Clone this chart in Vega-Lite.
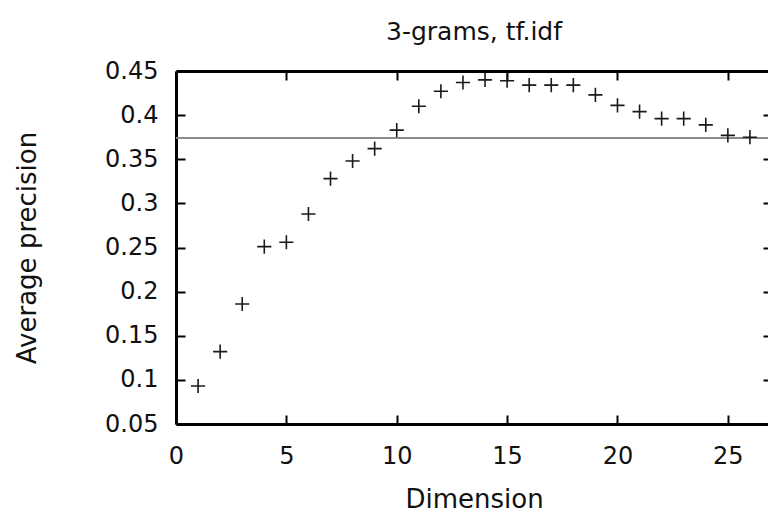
{
  "$schema": "https://vega.github.io/schema/vega-lite/v6.json",
  "autosize": "none",
  "padding": {"left": 176, "top": 71, "right": 0, "bottom": 90},
  "width": 596,
  "height": 353,
  "background": "white",
  "title": {"text": "3-grams, tf.idf", "font": "DejaVu Sans", "fontSize": 25, "fontWeight": "normal", "color": "#111", "offset": 14, "anchor": "middle"},
  "data": {"values": [
    {"dim": 1, "ap": 0.093}, {"dim": 2, "ap": 0.132}, {"dim": 3, "ap": 0.186},
    {"dim": 4, "ap": 0.251}, {"dim": 5, "ap": 0.256}, {"dim": 6, "ap": 0.288},
    {"dim": 7, "ap": 0.328}, {"dim": 8, "ap": 0.348}, {"dim": 9, "ap": 0.362},
    {"dim": 10, "ap": 0.383}, {"dim": 11, "ap": 0.41}, {"dim": 12, "ap": 0.427},
    {"dim": 13, "ap": 0.437}, {"dim": 14, "ap": 0.44}, {"dim": 15, "ap": 0.439},
    {"dim": 16, "ap": 0.434}, {"dim": 17, "ap": 0.434}, {"dim": 18, "ap": 0.434},
    {"dim": 19, "ap": 0.423}, {"dim": 20, "ap": 0.411}, {"dim": 21, "ap": 0.404},
    {"dim": 22, "ap": 0.396}, {"dim": 23, "ap": 0.396}, {"dim": 24, "ap": 0.389},
    {"dim": 25, "ap": 0.377}, {"dim": 26, "ap": 0.375}
  ]},
  "resolve": {"axis": {"x": "independent", "y": "independent"}},
  "layer": [
    {
      "mark": {"type": "rule", "color": "#8a8a8a", "strokeWidth": 2},
      "encoding": {"y": {"datum": 0.374, "type": "quantitative", "scale": {"domain": [0.05, 0.45], "nice": false, "zero": false}, "axis": null}}
    },
    {
      "mark": {"type": "point", "shape": "M-1,0L1,0M0,-1L0,1", "filled": false, "color": "#1a1a1a", "strokeWidth": 1.6, "size": 200, "opacity": 1},
      "encoding": {
        "x": {"field": "dim", "type": "quantitative", "scale": {"domain": [0, 27], "nice": false, "zero": false},
          "axis": {"orient": "bottom", "title": "Dimension", "values": [0, 5, 10, 15, 20, 25], "grid": false,
            "domainColor": "#000", "domainWidth": 3, "tickColor": "#000", "tickWidth": 2, "tickSize": -9,
            "labelFont": "DejaVu Sans", "labelFontSize": 24, "labelColor": "#111", "labelPadding": 29, "labelFlush": false,
            "titleFont": "DejaVu Sans", "titleFontSize": 26, "titleFontWeight": "normal", "titleColor": "#111", "titlePadding": 18}},
        "y": {"field": "ap", "type": "quantitative", "scale": {"domain": [0.05, 0.45], "nice": false, "zero": false},
          "axis": {"orient": "left", "title": "Average precision", "values": [0.05, 0.1, 0.15, 0.2, 0.25, 0.3, 0.35, 0.4, 0.45], "grid": false, "format": ".2~f",
            "domainColor": "#000", "domainWidth": 3, "tickColor": "#000", "tickWidth": 2, "tickSize": -9,
            "labelFont": "DejaVu Sans", "labelFontSize": 24, "labelColor": "#111", "labelPadding": 27, "labelFlush": false,
            "titleFont": "DejaVu Sans", "titleFontSize": 26, "titleFontWeight": "normal", "titleColor": "#111", "titlePadding": 64}}
      }
    },
    {
      "mark": {"type": "point", "opacity": 0},
      "encoding": {
        "x": {"field": "dim", "type": "quantitative", "scale": {"domain": [0, 27], "nice": false, "zero": false},
          "axis": {"orient": "top", "title": null, "labels": false, "values": [0, 5, 10, 15, 20, 25], "grid": false,
            "domainColor": "#000", "domainWidth": 3, "tickColor": "#000", "tickWidth": 2, "tickSize": -9}},
        "y": {"field": "ap", "type": "quantitative", "scale": {"domain": [0.05, 0.45], "nice": false, "zero": false},
          "axis": {"orient": "right", "title": null, "labels": false, "values": [0.05, 0.1, 0.15, 0.2, 0.25, 0.3, 0.35, 0.4, 0.45], "grid": false,
            "domainColor": "#000", "domainWidth": 3, "tickColor": "#000", "tickWidth": 2, "tickSize": -9}}
      }
    }
  ],
  "config": {"view": {"stroke": null}}
}
